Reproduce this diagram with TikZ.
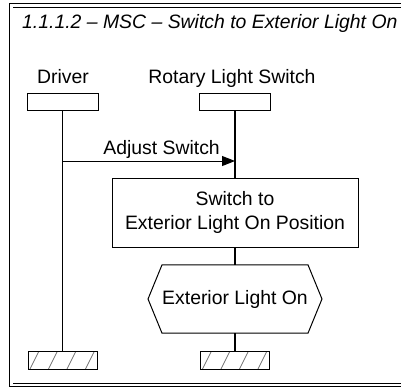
\documentclass[tikz,border=0pt]{standalone}
\usepackage{fontspec}
\setmainfont{Liberation Sans}
\usetikzlibrary{arrows.meta,positioning}

\tikzset{
	txt/.style={font=\fontsize{19.4}{24.5}\selectfont, inner sep=0pt},
	titel/.style={font=\fontsize{19.4}{24}\selectfont\itshape, inner sep=0pt},
	kopf/.style={draw, line width=1pt, minimum width=71pt, minimum height=17pt, inner sep=0pt},
	ende/.style={draw, line width=1pt, minimum width=69pt, minimum height=18pt, inner sep=0pt,
		path picture={
			\foreach \i in {0,...,5}
				\draw[black!55, line width=0.8pt] ([xshift=\i*18.5pt+2pt]path picture bounding box.south west) -- ++(9pt,18pt);
		}},
	aktion/.style={draw, line width=1pt, minimum width=246pt, minimum height=69pt, align=center},
	leben/.style={line width=1.2pt}
}

\begin{document}
\begin{tikzpicture}[x=1pt, y=-1pt]
	\useasboundingbox (0,0) rectangle (401,389);
	% Rahmen
	\draw[double, double distance=2.5pt, line width=0.9pt] (11.3,5.5) rectangle (420,385);
	\node[titel, anchor=base west] (titelT) at (22,28) {1.1.1.2 -- MSC -- Switch to Exterior Light On};
	% Instanzen
	\node[txt, anchor=base] (fahrerT) at (63,83) {Driver};
	\node[txt, anchor=base] (schalterT) at (232,83) {Rotary Light Switch};
	\node[kopf] (fahrer) at (62.5,101.5) {};
	\node[kopf] (schalter) at (235,101.5) {};
	\node[ende] (fahrerE) at (62.5,360) {};
	\node[ende] (schalterE) at (235,360) {};
	% Aktion und Bedingung
	\node[aktion, txt] (aktion) at (235,212.5) {Switch to\\Exterior Light On Position};
	\node[txt, minimum width=144pt, minimum height=68pt] (bed) at (235,299) {Exterior Light On};
	\draw[line width=1pt] (bed.north west) -- (bed.north east) -- ([xshift=14pt]bed.east)
		-- (bed.south east) -- (bed.south west) -- ([xshift=-14pt]bed.west) -- cycle;
	% Lebenslinien
	\draw[leben] (fahrer) -- (fahrerE);
	\draw[leben] (schalter) -- (aktion);
	\draw[leben] (aktion) -- (bed);
	\draw[leben] (bed) -- (schalterE);
	% Nachricht
	\coordinate (msgA) at (fahrer |- 0,161);
	\coordinate (msgB) at (schalter |- 0,161);
	\draw[line width=1pt, -{Triangle[length=13pt,width=10pt]}] (msgA) -- (msgB);
	\node[txt, anchor=base east] (msgT) at ([xshift=-15pt,yshift=7pt]msgB) {Adjust Switch};
\end{tikzpicture}
\end{document}
